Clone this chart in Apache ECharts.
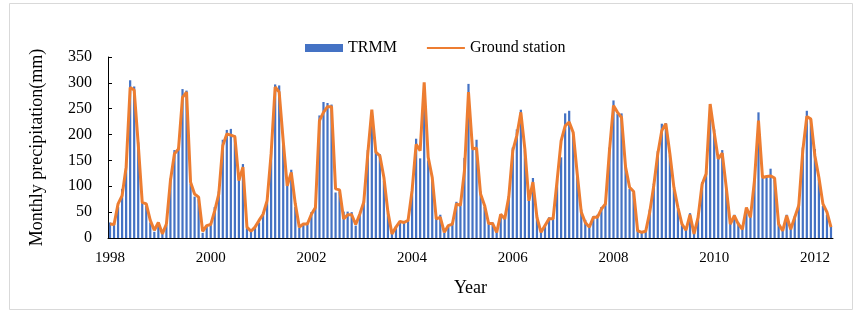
<!DOCTYPE html>
<html>
<head>
<meta charset="utf-8">
<script src="https://cdn.jsdelivr.net/npm/echarts@6/dist/echarts.min.js"></script>
<style>
html,body{margin:0;padding:0;background:#fff;}
#chart{width:861px;height:316px;}
</style>
</head>
<body>
<div id="chart"></div>
<script>
var years = ['1998','1999','2000','2001','2002','2003','2004','2005','2006','2007','2008','2009','2010','2011','2012'];
var yTicks = [0, 50, 100, 150, 200, 250, 300, 350];

var trmm = [
  30,28,60,95,150,305,293,185,70,62,30,12,
  28,10,25,115,170,175,288,285,105,80,75,10,
  22,28,60,90,190,209,211,198,120,143,20,12,
  20,30,50,70,170,297,295,180,110,132,60,20,
  25,30,50,62,237,263,261,258,88,90,51,51,
  50,24,45,72,170,225,169,162,110,48,10,22,
  30,33,35,100,192,154,260,150,110,40,45,10,
  22,30,70,66,155,298,172,190,90,60,30,30,
  12,45,40,80,175,210,248,170,75,116,45,12,
  25,40,40,115,156,241,246,200,120,55,35,22,
  42,45,60,70,175,266,240,241,140,95,88,15,
  12,15,55,105,168,221,222,160,95,55,30,18,
  48,10,45,108,130,256,210,160,170,95,30,45,
  30,18,55,45,115,243,117,118,134,113,30,15,
  45,20,42,65,175,246,232,172,115,62,45,22
];

var ground = [
  27,26,66,82,137,291,286,182,69,66,34,15,
  30,8,27,111,163,172,272,282,108,85,79,13,
  24,26,53,85,179,201,199,196,111,137,21,13,
  21,34,46,72,163,292,282,188,101,127,66,21,
  27,27,46,59,227,243,254,254,95,93,37,45,
  45,26,46,69,163,248,166,159,117,50,8,21,
  32,30,34,92,181,169,301,156,117,37,40,11,
  24,27,66,63,130,282,172,174,85,63,28,28,
  11,46,37,79,169,198,243,172,72,108,40,11,
  24,37,37,111,188,217,224,204,124,50,30,21,
  40,40,56,66,169,256,243,233,137,98,90,14,
  11,13,50,101,163,208,221,163,98,59,27,15,
  45,8,40,104,124,259,204,153,164,98,27,43,
  27,17,59,40,111,227,117,119,120,116,27,14,
  43,17,40,63,169,235,230,159,117,66,50,21
];

var months = [];
years.forEach(function (y) { for (var m = 0; m < 12; m++) months.push(y); });

var font = "'Liberation Serif', 'Times New Roman', serif";
var chart = echarts.init(document.getElementById('chart'), null, {renderer: 'canvas'});
chart.setOption({
  animation: false,
  backgroundColor: '#fff',
  textStyle: {fontFamily: font},
  graphic: [{
    type: 'rect', shape: {x: 9.5, y: 3.5, width: 843, height: 306},
    style: {fill: 'none', stroke: '#d9d9d9', lineWidth: 1}, silent: true, z: -1
  }],
  legend: {
    left: 300, top: 35, itemGap: 29, itemWidth: 38, itemHeight: 8,
    textStyle: {fontFamily: font, fontSize: 16, color: '#000'},
    data: [{name: 'TRMM', icon: 'rect'}, {name: 'Ground station', itemStyle: {opacity: 0}}]
  },
  grid: {left: 108, right: 28, top: 57, bottom: 78, containLabel: false},
  xAxis: {
    type: 'category', data: months, boundaryGap: true,
    name: 'Year', nameLocation: 'middle', nameGap: 41,
    nameTextStyle: {fontFamily: font, fontSize: 18, color: '#000'},
    axisLine: {lineStyle: {color: '#000', width: 1}},
    axisTick: {show: false},
    axisLabel: {interval: 24, fontFamily: font, fontSize: 15, color: '#000', margin: 13}
  },
  yAxis: {
    type: 'value', min: yTicks[0], max: yTicks[yTicks.length - 1], interval: 50,
    name: 'Monthly precipitation(mm)', nameLocation: 'middle', nameGap: 62,
    nameTextStyle: {fontFamily: font, fontSize: 18, color: '#000'},
    axisLine: {show: true, lineStyle: {color: '#000', width: 1}},
    axisTick: {show: true, inside: true, length: 4, lineStyle: {color: '#000'}},
    splitLine: {show: false},
    axisLabel: {fontFamily: font, fontSize: 16, color: '#000', margin: 16}
  },
  series: [{
    name: 'TRMM', type: 'bar', data: trmm, barWidth: '55%',
    itemStyle: {color: '#4472C4'}
  }, {
    name: 'Ground station', type: 'line', data: ground, symbol: 'none',
    lineStyle: {color: '#ED7D31', width: 3}, itemStyle: {color: '#ED7D31'}
  }]
});
</script>
</body>
</html>
